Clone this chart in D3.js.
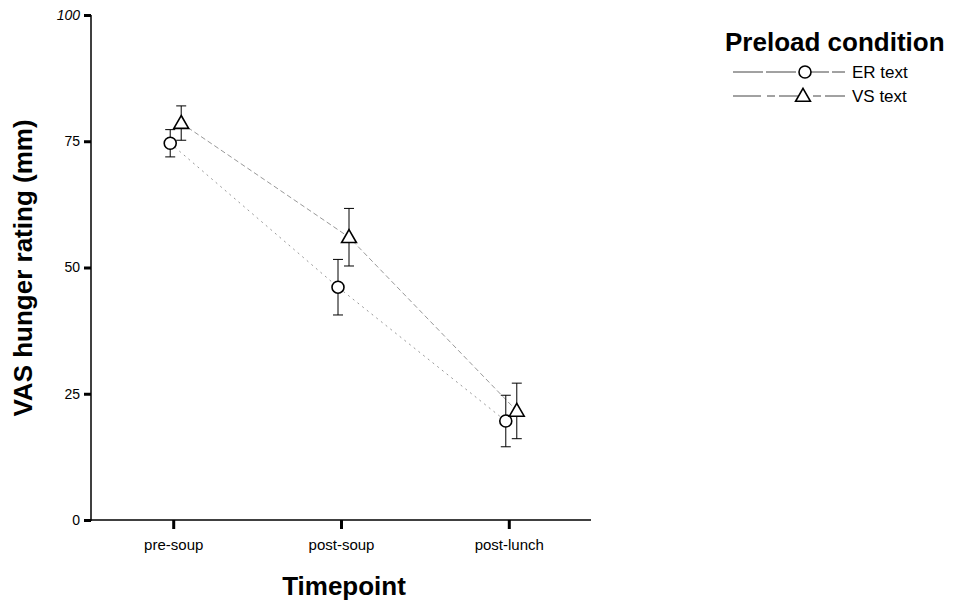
<!DOCTYPE html>
<html><head><meta charset="utf-8">
<script src="https://cdn.jsdelivr.net/npm/d3@7"></script>
<style>body{margin:0;background:#fff}text{font-family:"Liberation Sans",Arial,sans-serif}</style>
</head><body><svg id="c" width="953" height="606"></svg>
<script>
const categories = ["pre-soup", "post-soup", "post-lunch"];
const seriesNames = ["ER text", "VS text"];
const erMeans = [74.6, 46.1, 19.6];
const erErrors = [2.7, 5.5, 5.1];
const vsMeans = [78.6, 56.0, 21.6];
const vsErrors = [3.4, 5.7, 5.5];
const yTicks = [0, 25, 50, 75, 100];

const series = [
  {name: seriesNames[0], means: erMeans, errs: erErrors, shape: "circle", dx: -3, dash: "2,4", col: "#999"},
  {name: seriesNames[1], means: vsMeans, errs: vsErrors, shape: "triangle", dx: 8, dash: "5,3", col: "#999"}
];

const svg = d3.select("#c");
const y = d3.scaleLinear().domain([0, 100]).range([520, 15]);
const x = d3.scalePoint().domain(categories).range([91, 591]).padding(0.49);

// y axis
const ya = svg.append("g").attr("transform", "translate(91,0)")
  .call(d3.axisLeft(y).tickValues(yTicks).tickSize(7).tickPadding(4));
ya.select(".domain").attr("stroke", "#000").attr("stroke-width", 1.5).attr("d", "M0,15V521");
ya.selectAll(".tick line").attr("stroke-width", 3);
ya.selectAll(".tick text").attr("font-size", 14).attr("fill", "#000")
  .attr("font-style", d => d === 100 ? "italic" : "normal");

// x axis
const xa = svg.append("g").attr("transform", "translate(0,520)")
  .call(d3.axisBottom(x).tickSize(9).tickPadding(10));
xa.select(".domain").attr("stroke", "#000").attr("stroke-width", 1.5).attr("d", "M91,0H591");
xa.selectAll(".tick line").attr("stroke-width", 3);
xa.selectAll(".tick text").attr("font-size", 15).attr("fill", "#000");

// axis titles
svg.append("text").attr("transform", "translate(32,268) rotate(-90)").attr("text-anchor", "middle")
  .attr("font-size", 26).attr("font-weight", "bold").text("VAS hunger rating (mm)");
svg.append("text").attr("x", 344).attr("y", 595).attr("text-anchor", "middle")
  .attr("font-size", 26).attr("font-weight", "bold").text("Timepoint");

const triPath = d3.symbol().type(d3.symbolTriangle).size(95);

function drawMarker(g, shape, cx, cy) {
  if (shape === "circle") {
    g.append("circle").attr("cx", cx).attr("cy", cy).attr("r", 6)
      .attr("fill", "#fff").attr("stroke", "#000").attr("stroke-width", 1.6);
  } else {
    g.append("path").attr("d", triPath()).attr("transform", `translate(${cx},${cy + 1})`)
      .attr("fill", "#fff").attr("stroke", "#000").attr("stroke-width", 1.6);
  }
}

const plot = svg.append("g");
series.forEach(s => {
  const pts = categories.map((c, i) => [x(c) + s.dx, y(s.means[i])]);
  plot.append("path").attr("d", d3.line()(pts)).attr("fill", "none")
    .attr("stroke", s.col).attr("stroke-width", 1).attr("stroke-dasharray", s.dash);
});
series.forEach(s => {
  const g = plot.append("g");
  categories.forEach((c, i) => {
    const cx = x(c) + s.dx;
    const top = y(s.means[i] + s.errs[i]), bot = y(s.means[i] - s.errs[i]);
    g.append("line").attr("x1", cx).attr("x2", cx).attr("y1", top).attr("y2", bot)
      .attr("stroke", "#000").attr("stroke-width", 1);
    [top, bot].forEach(v => g.append("line").attr("x1", cx - 5).attr("x2", cx + 5)
      .attr("y1", v).attr("y2", v).attr("stroke", "#000").attr("stroke-width", 1));
    drawMarker(g, s.shape, cx, y(s.means[i]));
  });
});

// legend
const lg = svg.append("g");
lg.append("text").attr("x", 725).attr("y", 51).attr("font-size", 26).attr("font-weight", "bold")
  .text("Preload condition");
series.forEach((s, i) => {
  const ly = 72 + i * 24;
  lg.append("line").attr("x1", 733).attr("x2", 845).attr("y1", ly).attr("y2", ly)
    .attr("stroke", "#444").attr("stroke-width", 1).attr("stroke-dasharray", i === 0 ? "30,3,30,3" : "28,6,8,4");
  drawMarker(lg, s.shape, i === 0 ? 805 : 803, ly);
  lg.append("text").attr("x", 852).attr("y", ly + 6).attr("font-size", 17).text(s.name);
});
</script></body></html>
